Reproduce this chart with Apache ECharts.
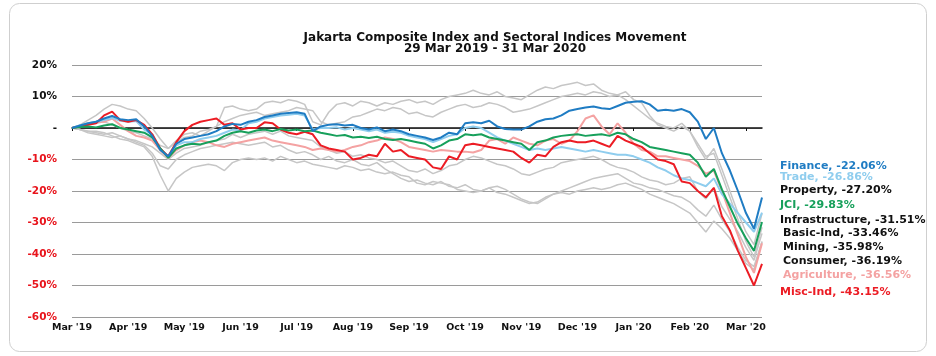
<!DOCTYPE html>
<html><head><meta charset="utf-8">
<script src="https://cdn.jsdelivr.net/npm/echarts@6/dist/echarts.min.js"></script>
<style>html,body{margin:0;padding:0;background:#fff}#c{width:936px;height:356px}</style>
</head><body><div id="c"></div>
<script>
const titleLines = ["Jakarta Composite Index and Sectoral Indices Movement", "29 Mar 2019 - 31 Mar 2020"];
const tickLabels = ["Mar '19","Apr '19","May '19","Jun '19","Jul '19","Aug '19","Sep '19","Oct '19","Nov '19","Dec '19","Jan '20","Feb '20","Mar '20"];
const yTicks = [-60,-50,-40,-30,-20,-10,0,10,20];

const finance = [0,0.8,1.5,2.0,3.0,3.8,2.8,2.5,2.8,0.5,
 -2.5,-7.0,-9.0,-5.0,-3.5,-3.0,-2.5,-2.0,-1.0,0.5,
 1.3,1.0,2.0,2.5,3.5,4.0,4.5,4.8,5.0,4.5,
 -1.0,0.5,1.0,1.2,0.8,1.0,0.0,-0.5,0.2,-1.0,
 -0.5,-1.0,-2.0,-2.5,-3.0,-3.8,-3.0,-1.5,-2.0,1.5,
 1.8,1.5,2.3,0.5,-0.3,-0.5,-0.5,0.5,2.0,2.8,
 3.0,4.0,5.5,6.0,6.5,6.8,6.3,6.0,7.0,8.0,
 8.3,8.5,7.5,5.5,5.8,5.5,6.0,5.0,2.0,-3.5,
 0.0,-8.0,-13.5,-20.0,-27.0,-32.0,-22.06];
const trade = [0,0.8,1.5,2.0,2.5,3.2,2.3,2.0,2.2,-0.5,
 -2.0,-6.5,-9.0,-5.5,-4.5,-4.5,-3.5,-3.0,-2.5,-1.5,
 -0.5,-0.8,1.5,2.0,3.0,3.5,4.0,4.2,4.5,4.0,
 -0.5,0.0,0.0,0.2,-0.5,0.0,-0.5,-1.0,-0.5,-1.5,
 -1.2,-1.5,-2.5,-3.0,-3.5,-4.5,-3.5,-2.5,-2.0,0.0,
 0.5,0.0,-1.5,-3.0,-4.0,-5.0,-6.0,-7.0,-6.5,-7.0,
 -6.5,-6.0,-6.5,-7.0,-7.5,-7.0,-7.5,-8.0,-8.5,-8.5,
 -9.0,-10.0,-11.0,-12.5,-13.5,-15.0,-16.0,-16.5,-17.5,-18.5,
 -16.0,-21.0,-24.0,-27.0,-30.0,-33.0,-26.86];
const jci = [0,0.3,0.5,0.2,0.8,1.2,0.0,-0.5,-1.0,-1.5,
 -3.0,-6.5,-9.5,-6.5,-5.5,-5.0,-5.2,-4.5,-4.0,-2.5,
 -1.5,-1.0,-1.5,-0.8,-0.5,-1.0,-0.3,-0.8,-0.5,-1.0,
 -0.8,-1.5,-2.0,-2.5,-2.2,-3.0,-2.8,-3.2,-2.8,-3.5,
 -3.8,-3.5,-4.0,-4.5,-5.0,-6.5,-5.5,-4.0,-3.5,-2.0,
 -2.3,-2.0,-3.0,-3.5,-4.0,-4.5,-5.0,-7.0,-4.5,-4.0,
 -3.0,-2.5,-2.2,-2.0,-2.5,-2.2,-2.0,-2.5,-1.5,-2.0,
 -3.5,-4.5,-6.0,-6.5,-7.0,-7.5,-8.0,-8.5,-11.0,-15.5,
 -13.0,-19.5,-25.0,-30.5,-35.0,-39.0,-29.83];
const miscInd = [0,0.5,1.0,1.5,4.0,5.2,2.5,2.0,2.5,1.0,
 -2.0,-6.5,-9.0,-4.5,-1.0,1.0,2.0,2.5,3.0,1.0,
 1.5,-0.5,0.0,0.0,1.8,1.5,-0.5,-1.5,-2.0,-1.2,
 -2.0,-5.5,-6.5,-7.0,-7.5,-10.0,-9.5,-8.5,-9.0,-5.0,
 -7.5,-7.0,-9.0,-9.5,-10.0,-12.5,-13.0,-9.0,-10.0,-5.5,
 -5.0,-5.5,-6.0,-6.5,-7.0,-7.5,-9.5,-11.0,-8.5,-9.0,
 -6.0,-4.5,-4.0,-4.5,-4.5,-4.0,-5.0,-6.0,-2.5,-4.0,
 -5.0,-6.0,-8.0,-10.0,-10.5,-11.5,-17.0,-17.5,-20.0,-22.0,
 -19.0,-28.0,-32.5,-39.0,-44.5,-50.0,-43.15];
const agriculture = [0,0.5,1.2,1.8,2.0,3.0,1.0,-1.0,-2.5,-3.0,
 -4.0,-7.0,-9.5,-7.0,-5.5,-4.5,-4.0,-4.5,-5.5,-6.0,
 -5.0,-4.5,-4.0,-3.5,-3.0,-4.0,-4.5,-5.0,-5.5,-6.0,
 -7.0,-6.5,-7.0,-7.5,-7.0,-6.0,-5.5,-4.5,-4.0,-3.0,
 -3.5,-4.5,-6.0,-6.5,-7.0,-7.5,-7.0,-7.2,-7.5,-7.5,
 -7.8,-7.0,-4.0,-3.5,-5.0,-3.0,-4.0,-5.0,-5.5,-4.0,
 -3.5,-5.0,-4.0,-1.0,3.0,4.0,0.5,-2.0,1.5,-1.5,
 -5.0,-7.0,-7.5,-9.0,-9.0,-9.5,-10.0,-10.5,-12.0,-14.5,
 -13.5,-20.0,-27.0,-34.0,-41.0,-46.0,-36.56];
const property = [0,0.5,1.0,1.5,2.0,1.0,0.0,-1.0,-1.5,-2.5,
 -3.5,-5.5,-6.5,-4.5,-3.0,-2.5,-1.0,-0.5,0.5,6.5,
 7.0,6.0,5.5,6.0,8.0,8.5,8.0,9.0,8.5,7.5,
 2.0,1.0,5.0,7.5,8.0,7.0,8.5,8.0,7.0,8.0,
 7.5,8.5,9.0,8.0,8.5,7.5,9.0,10.0,10.5,11.0,
 12.0,11.0,10.5,11.5,10.0,9.5,9.0,10.5,12.0,13.0,
 12.5,13.5,14.0,14.5,13.5,14.0,12.0,11.0,10.5,11.5,
 9.0,8.0,4.0,1.0,0.0,-1.0,0.5,-1.0,-6.0,-10.0,
 -6.5,-13.0,-20.0,-27.0,-33.0,-37.0,-27.20];
const infrastructure = [0,1.0,2.5,4.0,6.0,7.5,7.0,6.0,5.5,3.0,
 0.0,-3.5,-6.5,-4.0,-2.0,-1.5,-2.5,-1.0,0.5,2.0,
 3.0,4.0,4.5,5.0,4.0,4.5,5.0,5.5,6.5,6.0,
 5.5,2.0,1.0,1.5,2.0,3.5,4.0,5.0,6.0,5.5,
 6.5,6.0,4.5,5.0,4.0,3.5,5.0,6.0,7.0,7.5,
 6.5,7.0,8.0,7.5,6.5,5.0,5.5,6.0,7.0,8.0,
 9.0,10.0,10.5,11.0,10.5,11.5,11.0,10.0,10.5,9.0,
 7.0,5.0,3.0,1.5,0.5,0.0,1.5,-1.0,-5.0,-9.0,
 -8.0,-15.0,-22.0,-29.0,-36.0,-41.0,-31.51];
const basicInd = [0,-0.5,-1.0,-1.5,-2.0,-1.5,-2.5,-3.5,-4.0,-5.0,
 -6.0,-8.0,-10.0,-8.0,-6.5,-6.0,-5.5,-4.5,-4.0,-3.5,
 -2.0,-3.0,-2.0,-1.5,-1.0,-2.0,-1.0,-2.5,-3.0,-3.5,
 -4.0,-6.0,-7.0,-8.0,-7.5,-9.0,-8.5,-9.5,-10.0,-11.0,
 -10.5,-12.0,-13.5,-14.0,-13.0,-14.5,-13.5,-12.0,-11.5,-10.0,
 -9.0,-9.5,-10.5,-11.5,-12.0,-13.0,-14.5,-15.0,-14.0,-13.0,
 -12.5,-11.0,-10.5,-10.0,-9.5,-9.0,-10.0,-11.5,-12.5,-13.0,
 -14.0,-15.5,-16.5,-17.0,-18.0,-17.5,-16.0,-15.5,-20.0,-22.5,
 -19.0,-25.0,-29.0,-33.0,-38.0,-42.0,-33.46];
const mining = [0,-0.5,-1.5,-2.0,-2.5,-3.0,-2.5,-3.5,-4.5,-5.5,
 -8.0,-12.0,-13.0,-10.0,-8.5,-7.5,-6.5,-6.0,-5.5,-5.0,
 -4.5,-5.0,-5.5,-5.0,-4.5,-6.0,-5.5,-7.0,-8.0,-7.5,
 -8.5,-10.0,-9.0,-10.5,-11.0,-10.0,-11.5,-12.0,-11.0,-13.0,
 -14.5,-16.0,-17.0,-16.5,-17.5,-18.0,-17.0,-18.5,-19.0,-18.0,
 -19.5,-20.0,-19.0,-20.5,-21.0,-22.0,-23.0,-24.0,-23.5,-22.0,
 -21.0,-20.5,-21.0,-20.0,-19.5,-19.0,-19.5,-19.0,-18.0,-17.5,
 -18.5,-19.5,-21.0,-22.0,-23.0,-24.0,-25.5,-27.0,-30.0,-33.0,
 -29.5,-32.0,-35.0,-39.0,-43.0,-45.0,-35.98];
const consumer = [0,-0.5,-1.0,-1.0,-1.5,-2.5,-3.5,-4.0,-5.0,-6.0,
 -9.0,-15.0,-20.0,-16.0,-14.0,-12.5,-12.0,-11.5,-12.0,-13.5,
 -11.0,-10.0,-9.5,-10.0,-9.5,-10.5,-9.0,-10.0,-11.0,-10.5,
 -11.5,-12.0,-12.5,-13.0,-12.0,-12.5,-13.5,-13.0,-14.0,-14.5,
 -14.0,-15.0,-15.5,-17.5,-18.0,-17.0,-17.5,-18.0,-19.5,-20.0,
 -20.5,-20.0,-19.0,-18.5,-19.5,-21.0,-22.5,-23.5,-24.0,-22.5,
 -21.0,-20.0,-19.0,-18.0,-17.0,-16.0,-15.5,-15.0,-14.5,-16.0,
 -17.5,-18.0,-19.0,-19.5,-20.5,-21.5,-22.0,-23.5,-26.0,-28.0,
 -24.5,-29.0,-33.0,-38.0,-42.0,-44.0,-36.19];

const GRAY = '#c6c6c6';
// drawing order: back to front
const seriesDefs = [
  ['Property', property, GRAY, 1.5, '#111111'],
  ['Infrastructure', infrastructure, GRAY, 1.5, '#111111'],
  ['Basic-Ind', basicInd, GRAY, 1.5, '#111111'],
  ['Mining', mining, GRAY, 1.5, '#111111'],
  ['Consumer', consumer, GRAY, 1.5, '#111111'],
  ['Agriculture', agriculture, '#f4a2a2', 2, '#f4a2a2'],
  ['Trade', trade, '#8fcdee', 2, '#8fcdee'],
  ['Misc-Ind', miscInd, '#ec1c24', 2, '#ec1c24'],
  ['JCI', jci, '#17a05b', 2, '#17a05b'],
  ['Finance', finance, '#1f7cc3', 2, '#1f7cc3']
];
const labelOrder = ['Finance','Trade','Property','JCI','Infrastructure','Basic-Ind','Mining','Consumer','Agriculture','Misc-Ind'];
const labelY = [166,177,190,205,220,233,247,261,275,292];
const labelX = [780,780,780,780,780,783,783,783,783,780];

const N = finance.length;
const cats = Array.from({length: N}, (_, i) => (i % 7 === 0 && tickLabels[i / 7]) ? tickLabels[i / 7] : ('p' + i));
const FONT = '"DejaVu Sans", sans-serif';

const series = seriesDefs.map(([name, data, color, w]) => ({
  name, type: 'line', data: data.map((v, i) => i === data.length - 1
      ? {value: v, symbol: 'circle', symbolSize: [16, 12], itemStyle: {color}}
      : {value: v, symbol: 'none'}),
  showSymbol: true, symbol: 'none', smooth: false,
  lineStyle: {color, width: w}, itemStyle: {color},
  emphasis: {disabled: true}, animation: false, z: 2
}));

const graphic = [{
  type: 'rect', silent: true, z: -10,
  shape: {x: 9.5, y: 3.5, width: 917, height: 348, r: 10},
  style: {fill: 'none', stroke: '#cfcfcf', lineWidth: 1}
}];
labelOrder.forEach((name, k) => {
  const def = seriesDefs.find(d => d[0] === name);
  const last = def[1][def[1].length - 1];
  graphic.push({
    type: 'text', x: labelX[k], y: labelY[k], silent: true,
    style: {text: name + ', ' + last.toFixed(2) + '%', fill: def[4],
      font: 'bold 11px ' + FONT, verticalAlign: 'middle', align: 'left'}
  });
});

const chart = echarts.init(document.getElementById('c'));
chart.setOption({
  animation: false,
  backgroundColor: '#fff',
  title: {text: titleLines.join('\n'), left: 490, top: 28, textAlign: 'center',
    textStyle: {fontFamily: FONT, fontWeight: 'bold', fontSize: 12, lineHeight: 10.5, color: '#111'}},
  grid: {left: 72, right: 174, top: 65, bottom: 39},
  xAxis: {
    type: 'category', data: cats, boundaryGap: false,
    axisLine: {lineStyle: {color: '#111', width: 1.5}},
    axisTick: {interval: 6, length: 3, lineStyle: {color: '#111'}},
    axisLabel: {interval: 6, margin: 6, fontFamily: FONT, fontWeight: 'bold', fontSize: 9.5, color: '#111',
      formatter: v => v.charAt(0) === 'p' ? '' : v},
    splitLine: {show: false}
  },
  yAxis: {
    type: 'value', min: yTicks[0], max: yTicks[yTicks.length - 1], interval: 10,
    axisLine: {show: false}, axisTick: {show: false},
    axisLabel: {margin: 15, fontFamily: FONT, fontWeight: 'bold', fontSize: 10.5,
      formatter: v => v === 0 ? '-' : v + '%',
      color: v => (v < 0 ? '#e8141c' : '#111')},
    splitLine: {lineStyle: {color: '#9a9a9a', width: 1}}
  },
  graphic,
  series
});
</script></body></html>
